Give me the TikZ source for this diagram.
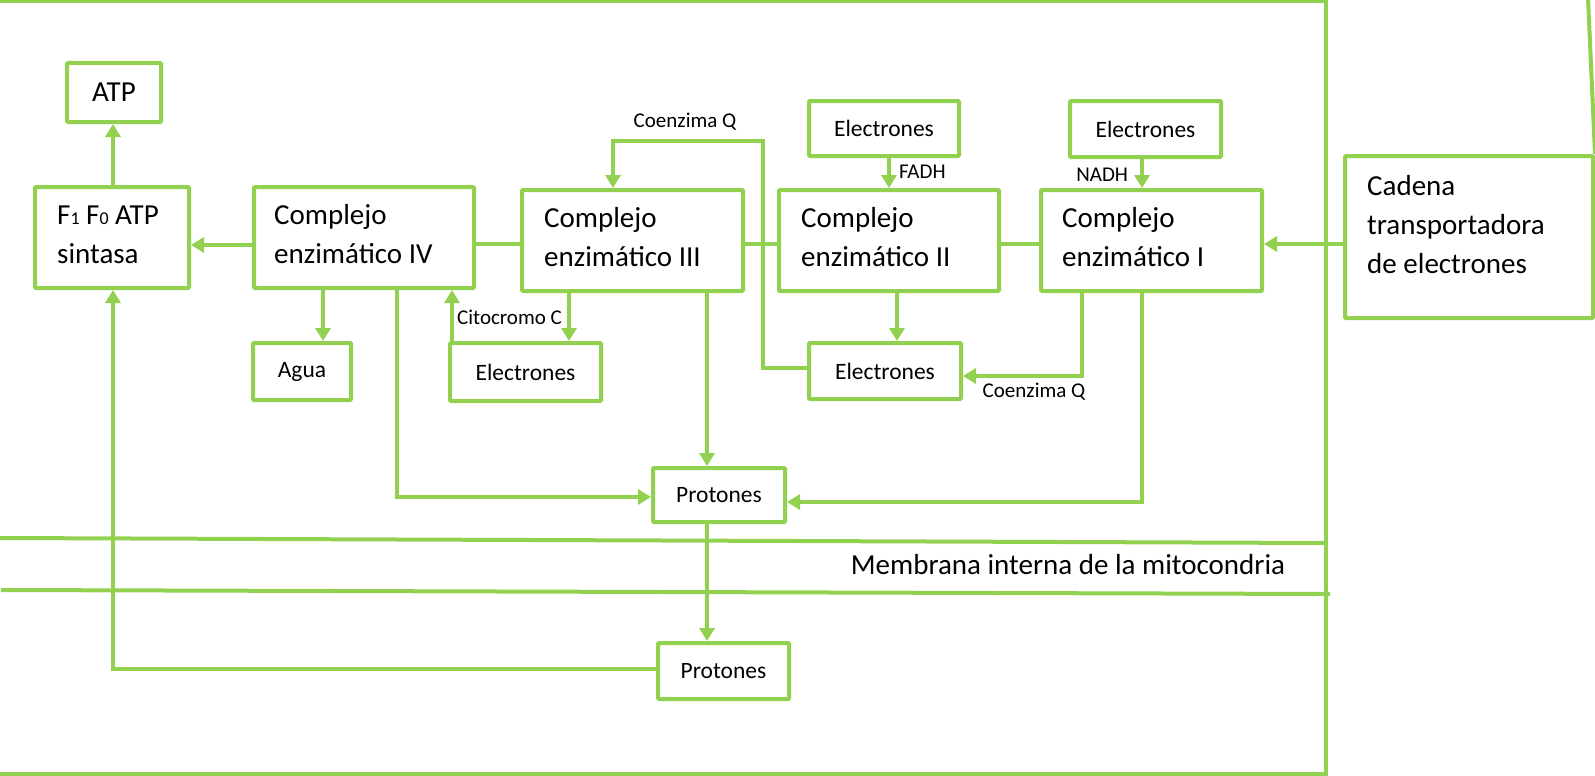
\documentclass[tikz,border=0pt]{standalone}
\usepackage{fontspec}
\setmainfont{Carlito}
\usetikzlibrary{arrows.meta}
\definecolor{lgreen}{RGB}{146,208,80}
\newcommand\fntA{\fontsize{29}{39}\selectfont}
\newcommand\fntB{\fontsize{23.5}{28}\selectfont}
\newcommand\fntC{\fontsize{21}{25}\selectfont}
\newcommand\fntS{\fontsize{18}{18}\selectfont}
\begin{document}
\begin{tikzpicture}[x=1pt,y=-1pt,
  ln/.style={draw=lgreen, line width=4pt},
  box/.style={draw=lgreen, line width=4pt, fill=white, rounded corners=1pt, inner sep=0pt, font=\fntB},
  arr/.style={draw=lgreen, line width=4pt, -{Triangle[length=13pt,width=15pt]}},
  txt/.style={inner sep=0pt, font=\fntA},
  lab/.style={inner sep=0pt, font=\fntC}]
\useasboundingbox (0,0) rectangle (1595,776);

% frame and membrane
\draw[ln] (0,1) -- (1326,1) -- (1326,774) -- (0,774);
\draw[ln] (0,538) -- (1326,543);
\draw[ln] (1,590) -- (1330,594);

% boxes
\node[box, minimum width=94pt, minimum height=59pt, font=\fntA] (atp) at (114,92.5) {ATP};
\node[box, minimum width=154pt, minimum height=101pt] (f) at (112,237.5) {};
\node[box, minimum width=220pt, minimum height=101pt] (c4) at (364,237.5) {};
\node[box, minimum width=221pt, minimum height=101pt] (c3) at (632.5,240.5) {};
\node[box, minimum width=220pt, minimum height=101pt] (c2) at (889,240.5) {};
\node[box, minimum width=221pt, minimum height=101pt] (c1) at (1151.5,240.5) {};
\node[box, minimum width=248pt, minimum height=162pt] (cad) at (1469,237) {};
\node[box, minimum width=150pt, minimum height=55pt] (ef) at (884,128.5) {Electrones};
\node[box, minimum width=151pt, minimum height=56pt] (en) at (1145.5,129) {Electrones};
\node[box, minimum width=152pt, minimum height=56pt] (em) at (885,371) {Electrones};
\node[box, minimum width=151pt, minimum height=58pt] (ec) at (525.5,372) {Electrones};
\node[box, minimum width=98pt, minimum height=57pt] (agua) at (302,371.5) {Agua};
\node[box, minimum width=132pt, minimum height=54pt] (pu) at (719,495) {Protones};
\node[box, minimum width=131pt, minimum height=56pt] (pl) at (723.5,671) {Protones};

% box texts
\node[txt, anchor=base west] (tf) at (57,224) {\vtop{\hbox{F{\fntS 1} F{\fntS 0} ATP}\hbox{sintasa}}};
\node[txt, anchor=base west] (t4) at (274,224) {\vtop{\hbox{Complejo}\hbox{enzimático IV}}};
\node[txt, anchor=base west] (t3) at (544,227) {\vtop{\hbox{Complejo}\hbox{enzimático III}}};
\node[txt, anchor=base west] (t2) at (801,227) {\vtop{\hbox{Complejo}\hbox{enzimático II}}};
\node[txt, anchor=base west] (t1) at (1062,227) {\vtop{\hbox{Complejo}\hbox{enzimático I}}};
\node[txt, anchor=base west] (tc) at (1367,195) {\vtop{\hbox{Cadena}\hbox{transportadora}\hbox{de electrones}}};
\node[txt, anchor=base] (mem) at (1068,574) {Membrana interna de la mitocondria};

% odd line at top right
\coordinate (tr) at (1588,-2);
\draw[ln] (tr) -- (cad.north east);

% plain links
\draw[ln] (c4.east |- 0,244) -- (c3.west |- 0,244);
\draw[ln] (c3.east |- 0,244) -- (c2.west |- 0,244);
\draw[ln] (c2.east |- 0,244) -- (c1.west |- 0,244);

% arrows
\draw[arr] (f.north -| 113,0) -- (atp.south -| 113,0);
\draw[arr] (c4.west |- 0,245) -- (f.east |- 0,245);
\draw[arr] (cad.west |- 0,244) -- (c1.east |- 0,244);
\draw[arr] (ef.south -| 889,0) -- (c2.north -| 889,0) node[lab, pos=0.45, anchor=west, xshift=8pt] (lf) {FADH};
\draw[arr] (en.south -| 1142,0) -- (c1.north -| 1142,0) node[lab, pos=0.55, anchor=east, xshift=-12pt] (ln1) {NADH};
\draw[arr] (c4.south -| 323,0) -- (agua.north -| 323,0);
\draw[arr] (c3.south -| 569,0) -- (ec.north -| 569,0);
\draw[arr] (ec.north -| 452,0) -- (c4.south -| 452,0);
\draw[arr] (c3.south -| 707,0) -- (pu.north -| 707,0);
\draw[arr] (c2.south -| 897,0) -- (em.north -| 897,0);
\draw[arr] (pu.south -| 707,0) -- (pl.north -| 707,0);
\draw[arr] (c4.south -| 397,0) |- (pu.west |- 0,497);
\draw[arr] (c1.south -| 1142,0) |- (pu.east |- 0,502);
\draw[arr] (c1.south -| 1082,0) |- (em.east |- 0,376);
\draw[arr] (pl.west |- 0,669) -| (f.south -| 113,0);
\coordinate (q1) at (763,141);
\draw[arr] (em.west |- 0,368) -| (q1) -| (c3.north -| 613,0);

% small labels
\node[lab, anchor=base] (lq1) at (685,127) {Coenzima Q};
\node[lab, anchor=base] (lq2) at (1034,397) {Coenzima Q};
\node[lab, anchor=base east] (lcc) at (562,324) {Citocromo C};
\end{tikzpicture}
\end{document}
